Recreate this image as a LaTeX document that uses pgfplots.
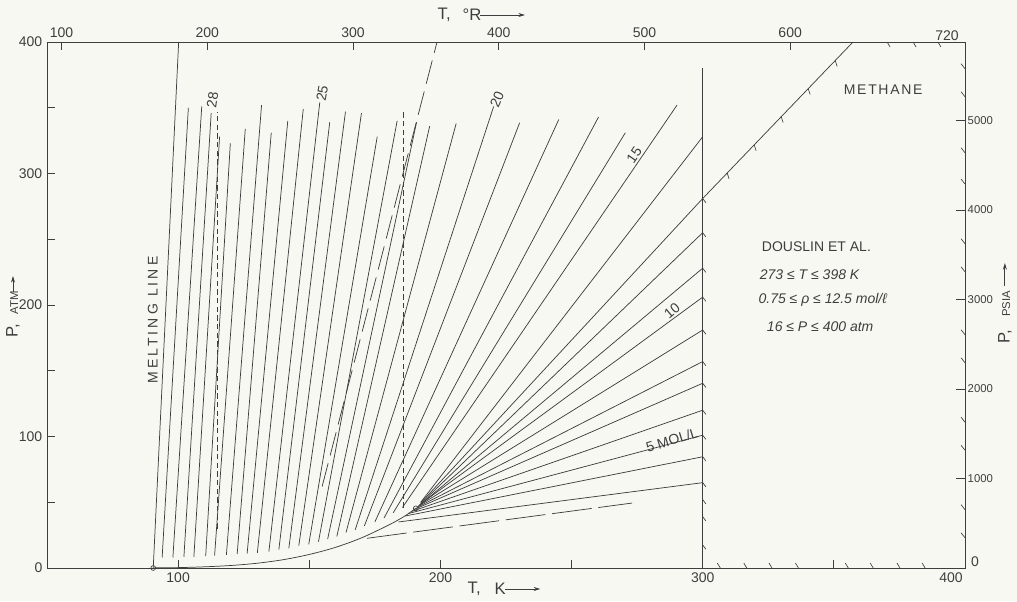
\documentclass[border=0pt]{standalone}
\usepackage{fontspec}
\setmainfont{Liberation Sans}
\usepackage{pgfplots}
\pgfplotsset{compat=1.18}
\usetikzlibrary{arrows.meta}
\definecolor{ink}{RGB}{62,62,62}
\definecolor{paper}{RGB}{248,248,243}

\newcommand{\tl}{\fontsize{10.5}{12}\selectfont}
\pgfplotsset{
  frame/.style={at={(0pt,0pt)}, anchor=south west, width=688.5pt, height=394.5pt,
    scale only axis, axis line style={ink, line width=0.7pt},
    tick style={ink, line width=0.6pt}, tick align=inside, major tick length=6pt,
    ticklabel style={font=\tl, text=ink},
    /pgf/number format/assume math mode=true, /pgf/number format/1000 sep={}},
  iso/.style={ink, line width=0.55pt},
  hatch/.style={ink, line width=0.5pt},
}
\tikzset{arr/.style={ink, line width=0.6pt, -{Stealth[length=5pt, width=3pt]}}}

\begin{document}
\begin{tikzpicture}
\fill[paper] (-35.25pt,-24.75pt) rectangle (727.5pt,426pt);

% Rankine scale along the top
\begin{axis}[frame, xmin=90, xmax=720, ymin=0, ymax=400,
  axis x line*=top, axis y line=none,
  xtick={100,200,...,600}]
\end{axis}

% psia scale along the right
\begin{axis}[frame, xmin=0, xmax=1, ymin=0, ymax=5878.4,
  axis y line*=right, axis x line=none,
  ytick={1000,2000,...,5000}, major tick length=7pt,
  yticklabel style={font=\fontsize{8.5}{10}\selectfont, xshift=-1.5pt}]
\end{axis}

% main T (K) - P (atm) field
\begin{axis}[frame, xmin=50, xmax=400, ymin=0, ymax=400, clip=false,
  xtick={100,150,...,400}, xticklabels={100,,200,,300,,}, xtick pos=left,
  ytick={0,50,...,400}, yticklabels={0,,100,,200,,300,,400}, ytick pos=left]

% melting line and vapour-pressure curve
\addplot[iso] coordinates {(90.5,0) (100.2,400)};
\addplot[iso, smooth] coordinates {(90.7,0.1) (100,0.3) (110,0.9) (120,1.9) (130,3.6)
  (140,6.3) (150,10.3) (160,15.7) (170,23.0) (180,32.4) (186,39.0) (190.6,45.4)};

% liquid isochores
\addplot[iso] coordinates {(93.9,8) (103.9,350)};
\addplot[iso] coordinates {(98.0,8) (109.0,351)};
\addplot[iso] coordinates {(102.2,8.5) (112.6,346)};
\addplot[iso] coordinates {(106.0,8.5) (115.8,328)};
\addplot[iso] coordinates {(110.5,9) (119.9,323)};
\addplot[iso] coordinates {(113.9,9.5) (125.6,334)};
\addplot[iso] coordinates {(118.4,10) (131.8,352)};
\addplot[iso] coordinates {(122.5,10.5) (135.5,331)};
\addplot[iso] coordinates {(126.3,11) (141.8,340)};
\addplot[iso] coordinates {(130.2,11.5) (147.7,349)};
\addplot[iso] coordinates {(134.6,12.5) (154.0,354)};
\addplot[iso] coordinates {(138.4,14) (157.8,339)};
\addplot[iso] coordinates {(142.2,15) (163.8,347)};
\addplot[iso] coordinates {(146.0,17) (169.9,346)};
\addplot[iso] coordinates {(149.8,18) (175.9,328)};
\addplot[iso] coordinates {(153.5,20) (183.5,340)};
\addplot[iso] coordinates {(157.0,22) (190.9,339)};
\addplot[iso] coordinates {(160.5,24) (195.9,336)};
\addplot[iso] coordinates {(164.0,27) (206.0,338)};
\addplot[iso] coordinates {(167.5,29) (220.3,351)};
\addplot[iso] coordinates {(171.0,32) (230.2,338.6)};
\addplot[iso] coordinates {(175.0,35) (245.1,341)};
\addplot[iso] coordinates {(178.5,38) (260.3,343)};
\addplot[iso] coordinates {(182.0,42) (270.5,331)};
\addplot[iso] coordinates {(185.5,46) (290.2,352)};

% near-critical and gas isochores ending at 300 K
\addplot[iso] coordinates {(192.5,50) (300,328)};
\addplot[iso] coordinates {(192.5,49.5) (300,281)};
\addplot[iso] coordinates {(192.5,49) (300,255)};
\addplot[iso] coordinates {(192.5,48.5) (300,228)};
\addplot[iso] coordinates {(192,48) (300,206)};
\addplot[iso] coordinates {(191.5,47) (300,181)};
\addplot[iso] coordinates {(191,46) (300,157)};
\addplot[iso] coordinates {(190,44.5) (300,140.5)};
\addplot[iso] coordinates {(189,43) (300,120)};
\addplot[iso] coordinates {(188,41.5) (300,101)};
\addplot[iso] coordinates {(186.5,39.5) (300,84.6)};
\addplot[iso] coordinates {(184,35) (300,64.9)};

% dashed lines
\addplot[iso, dash pattern=on 30pt off 5pt] coordinates {(172,22.6) (273.1,49.4)};
\addplot[iso, dash pattern=on 18pt off 6pt] coordinates {(154.9,62) (198.7,400)};
\addplot[iso, dash pattern=on 4pt off 2.5pt] coordinates {(114.8,30) (114.8,347)};
\addplot[iso, dash pattern=on 4pt off 2.5pt] coordinates {(186,46) (186,347)};

% Douslin et al. region and its hatched boundary
\addplot[ink, line width=0.8pt] coordinates {(300,0) (300,380)};
\addplot[iso] coordinates {(300,281) (357.3,400)};
\addplot[hatch, quiver={u=1.2, v=-3.2}] coordinates {(300,281) (300,255) (300,228) (300,206)
  (300,181) (300,157) (300,140.5) (300,120) (300,101) (300,84.6) (300,64.9) (300,52) (300,39) (300,17.5)};
\addplot[hatch, quiver={u=0.76, v=-4.6}] coordinates {(309.3,300.5) (319.6,321.9)
  (329.9,343.3) (340.2,364.6) (350.5,386.0)};
\addplot[hatch, quiver={u=1.14, v=-3.8}] coordinates {(370.3,400) (380.2,400) (389.7,400)};
\addplot[hatch, quiver={u=-1.52, v=3.8}] coordinates {(400,23.0) (400,44.4) (400,89.6)
  (400,110.9) (400,156.1) (400,177.4) (400,225.3) (400,246.6) (400,292) (400,315.8) (400,358.4) (400,379.7)};
\addplot[hatch, quiver={u=-1.14, v=3.8}] coordinates {(306.7,0) (316.8,0) (326.4,0) (336.5,0)
  (355.5,0) (365.0,0) (375.2,0) (384.8,0)};

% triple and critical points
\addplot[only marks, mark=o, mark size=1.8pt, mark options={ink, fill=paper, line width=0.5pt}]
  coordinates {(90.5,0) (190.6,45.4)};

% curve labels
\node[rotate=90, font=\tl\addfontfeatures{LetterSpace=22}, text=ink] at (axis cs:90.3,188.5) {MELTING LINE};
\node[rotate=82, font=\tl, text=ink] at (axis cs:113.1,356) {28};
\node[rotate=80, font=\tl, text=ink] at (axis cs:154.9,361) {25};
\node[rotate=66, font=\tl, text=ink] at (axis cs:221.6,356) {20};
\node[rotate=55, font=\tl, text=ink] at (axis cs:273.9,314) {15};
\node[rotate=40, font=\tl, text=ink] at (axis cs:288.3,195.4) {10};
\node[rotate=17, font=\tl, text=ink] at (axis cs:288.3,97.3) {5 MOL/L};
\node[font=\tl\addfontfeatures{LetterSpace=12}, text=ink] at (axis cs:368.8,364) {METHANE};
\node[anchor=west, font=\tl, text=ink] at (axis cs:320.8,244) {DOUSLIN ET AL.};
\node[anchor=west, font=\tl\itshape, text=ink] at (axis cs:320,222.8) {273 ≤ T ≤ 398  K};
\node[anchor=west, font=\tl\itshape, text=ink] at (axis cs:319.5,203.8) {0.75 ≤ ρ ≤ 12.5  mol/ℓ};
\node[anchor=west, font=\tl\itshape, text=ink] at (axis cs:322.7,183.3) {16 ≤ P ≤ 400  atm};
\end{axis}

% corner numbers
\node[font=\tl, text=ink] at (678pt,-7.5pt) {400};
\node[font=\tl, text=ink] at (696pt,4.5pt) {0};
\node[font=\tl, text=ink] at (675pt,399pt) {720};

% axis titles
\node[anchor=west, font=\fontsize{12.5}{14}\selectfont, text=ink] at (312pt,-15.75pt) {T,};
\node[anchor=west, font=\fontsize{12.5}{14}\selectfont, text=ink] at (332.25pt,-15.75pt) {K};
\draw[arr] (343.5pt,-15.75pt) -- (370pt,-15.75pt);
\node[anchor=west, font=\fontsize{12.5}{14}\selectfont, text=ink] at (289.5pt,414.75pt) {T,};
\node[anchor=west, font=\fontsize{12.5}{14}\selectfont, text=ink] at (308.25pt,414.75pt) {°R};
\draw[arr] (324.75pt,414.75pt) -- (358.5pt,414.75pt);
\node[rotate=90, font=\fontsize{12.5}{14}\selectfont, text=ink] at (-25.5pt,177.75pt) {P,};
\node[rotate=90, font=\fontsize{8.5}{10}\selectfont, text=ink] at (-24.5pt,198.75pt) {ATM};
\draw[arr] (-25.5pt,207pt) -- (-25.5pt,219pt);
\node[rotate=90, font=\fontsize{12.5}{14}\selectfont, text=ink] at (718.4pt,173.25pt) {P,};
\node[rotate=90, font=\fontsize{8.5}{10}\selectfont, text=ink] at (719.4pt,198pt) {PSIA};
\draw[arr] (718.4pt,211.5pt) -- (718.4pt,228.75pt);

\pgfresetboundingbox
\path (-35.25pt,-24.75pt) rectangle (727.5pt,426pt);
\end{tikzpicture}
\end{document}
